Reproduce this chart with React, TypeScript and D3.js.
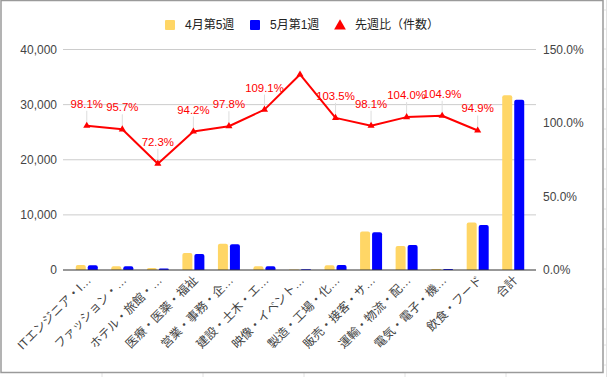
import React from "react";
import * as d3 from "d3";

const categories = [
  "ITエンジニア・I…",
  "ファッション・…",
  "ホテル・旅館・…",
  "医療・医薬・福祉",
  "営業・事務・企…",
  "建設・土木・エ…",
  "映像・イベント…",
  "製造・工場・化…",
  "販売・接客・サ…",
  "運輸・物流・配…",
  "電気・電子・機…",
  "飲食・フード",
  "合計",
];
const seriesNames = ["4月第5週", "5月第1週", "先週比（件数）"];
const aprilW5 = [900, 700, 360, 3080, 4750, 700, 90, 870, 7000, 4350, 185, 8600, 31700];
const mayW1 = [880, 690, 260, 2900, 4650, 700, 120, 900, 6870, 4525, 194, 8160, 30900];
const ratio = [98.1, 95.7, 72.3, 94.2, 97.8, 109.1, 133.0, 103.5, 98.1, 104.0, 104.9, 94.9];
const ratioLabelShown = [true, true, true, true, true, true, false, true, true, true, true, true];
const leftTicks = [0, 10000, 20000, 30000, 40000];
const rightTicks = [0, 50, 100, 150];

const W = 607;
const H = 377;
const FONT = "Arial, 'Liberation Sans', 'Noto Sans CJK JP', sans-serif";
const YELLOW = "#ffd666";
const BLUE = "#0000ff";
const RED = "#ff0000";

export default function App() {
  const plotL = 63;
  const plotR = 536;
  const y0 = 270;
  const yTop = 49.5;
  const x = d3.scaleBand<string>().domain(categories).range([69, 531]).padding(0);
  const yL = d3.scaleLinear().domain([0, 40000]).range([y0, yTop]);
  const yR = d3.scaleLinear().domain([0, 150]).range([y0, yTop]);
  const barW = 10;
  const gap = 2;
  const fmt = d3.format(",");
  const lineGen = d3
    .line<number>()
    .x((_, i) => (x(categories[i]) as number) + x.bandwidth() / 2)
    .y((d) => yR(d));
  const tri = d3.symbol().type(d3.symbolTriangle).size(22)();

  return (
    <div style={{ position: "fixed", left: 0, top: 0 }}>
      <svg width={W} height={H} style={{ display: "block", fontFamily: FONT }}>
        <rect x={0} y={0} width={W} height={H} fill="#fff" />
        {[10, 29, 49, 69, 89, 109, 129, 149, 169, 189, 209, 229, 249, 269, 289, 309, 329, 345, 365].map((yy, i) => (
          <line key={"sg" + i} x1={604} x2={607} y1={yy} y2={yy} stroke="#e2e2e2" />
        ))}
        <line x1={606.5} x2={606.5} y1={0} y2={H} stroke="#e2e2e2" />
        {[102, 203, 304, 405, 506].map((xx, i) => (
          <line key={"sb" + i} x1={xx} x2={xx} y1={373} y2={H} stroke="#e2e2e2" />
        ))}
        <rect x={1} y={0.5} width={602} height={372} fill="#fff" stroke="#9a9a9a" strokeWidth={1.5} />

        <g fontSize={12} fill="#222">
          <rect x={165} y={20} width={10} height={10} fill={YELLOW} rx={1} />
          <text x={185} y={29}>{seriesNames[0]}</text>
          <rect x={250} y={20} width={10} height={10} fill={BLUE} rx={1} />
          <text x={270} y={29}>{seriesNames[1]}</text>
          <path d={d3.symbol().type(d3.symbolTriangle).size(60)() as string} transform="translate(340,26)" fill={RED} />
          <text x={355} y={29}>{seriesNames[2]}</text>
        </g>

        {leftTicks.map((t) =>
          t === 0 ? null : (
            <line key={"g" + t} x1={plotL} x2={plotR} y1={yL(t)} y2={yL(t)} stroke="#cccccc" />
          )
        )}
        {leftTicks.map((t) => (
          <text key={"l" + t} x={57} y={yL(t) + 4} textAnchor="end" fontSize={12} fill="#444">
            {fmt(t)}
          </text>
        ))}
        {rightTicks.map((t) => (
          <text key={"r" + t} x={543} y={yR(t) + 4} textAnchor="start" fontSize={12} fill="#444">
            {t.toFixed(1) + "%"}
          </text>
        ))}

        {categories.map((c, i) => {
          const cx = (x(c) as number) + x.bandwidth() / 2;
          const ya = yL(aprilW5[i]);
          const yb = yL(mayW1[i]);
          return (
            <g key={"b" + i}>
              <path d={roundTop(cx - gap / 2 - barW, ya, barW, y0 - ya)} fill={YELLOW} />
              <path d={roundTop(cx + gap / 2, yb, barW, y0 - yb)} fill={BLUE} />
            </g>
          );
        })}

        <line x1={plotL} x2={plotR} y1={y0} y2={y0} stroke="#333" strokeWidth={1.2} />

        {ratio.map((r, i) => {
          if (!ratioLabelShown[i]) return null;
          const cx = (x(categories[i]) as number) + x.bandwidth() / 2;
          const py = yR(r);
          return <line key={"ld" + i} x1={cx} x2={cx} y1={py} y2={py - 15} stroke="#dddddd" />;
        })}

        <path d={lineGen(ratio) as string} fill="none" stroke={RED} strokeWidth={2} strokeLinejoin="round" />
        {ratio.map((r, i) => {
          const cx = (x(categories[i]) as number) + x.bandwidth() / 2;
          return <path key={"m" + i} d={tri as string} transform={`translate(${cx},${yR(r)})`} fill={RED} />;
        })}
        {ratio.map((r, i) => {
          if (!ratioLabelShown[i]) return null;
          const cx = (x(categories[i]) as number) + x.bandwidth() / 2;
          return (
            <text key={"rl" + i} x={cx} y={yR(r) - 18} textAnchor="middle" fontSize={11.4} fill={RED}>
              {r.toFixed(1) + "%"}
            </text>
          );
        })}

        {categories.map((c, i) => {
          const cx = (x(c) as number) + x.bandwidth() / 2 + 5;
          const ty = 281;
          return (
            <text
              key={"x" + i}
              transform={`translate(${cx},${ty}) rotate(-45)`}
              textAnchor="end"
              fontSize={12}
              fill="#444"
            >
              {c}
            </text>
          );
        })}
      </svg>
    </div>
  );
}

function roundTop(x0: number, yTopV: number, w: number, h: number): string {
  if (h <= 0) return "";
  const r = Math.min(2, h, w / 2);
  const p = d3.path();
  p.moveTo(x0, yTopV + h);
  p.lineTo(x0, yTopV + r);
  p.quadraticCurveTo(x0, yTopV, x0 + r, yTopV);
  p.lineTo(x0 + w - r, yTopV);
  p.quadraticCurveTo(x0 + w, yTopV, x0 + w, yTopV + r);
  p.lineTo(x0 + w, yTopV + h);
  p.closePath();
  return p.toString();
}
